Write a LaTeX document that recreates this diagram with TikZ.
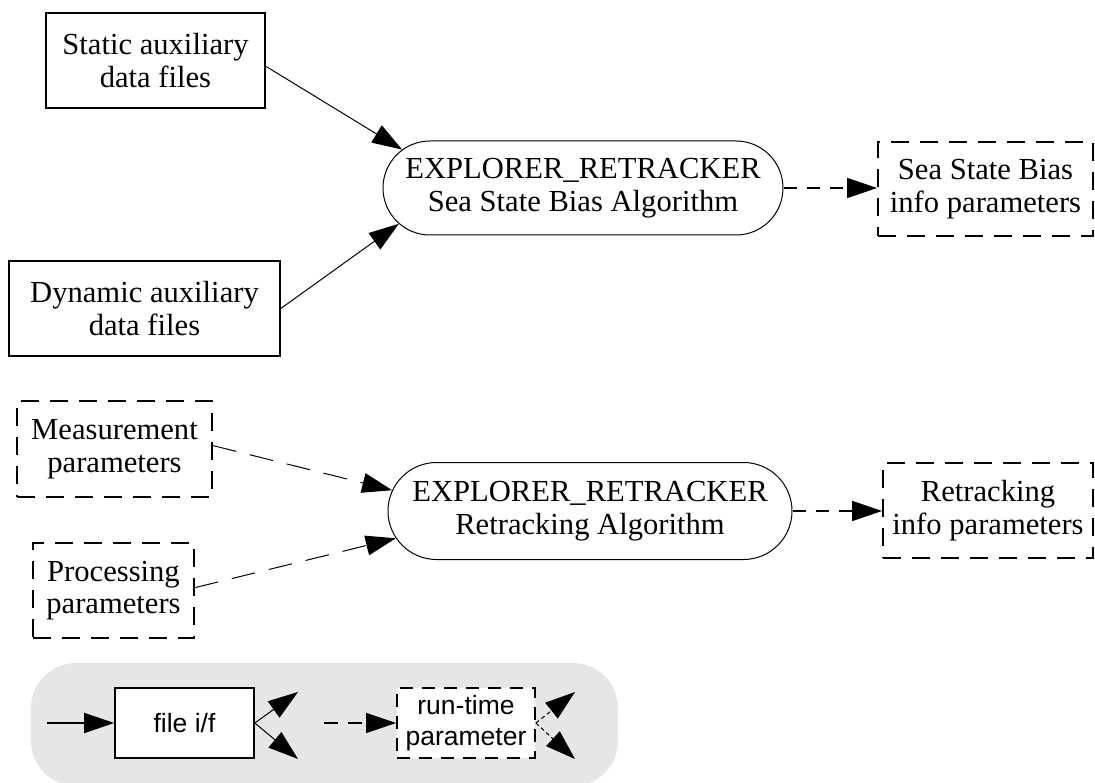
\documentclass[tikz,border=0pt]{standalone}
\usepackage{fontspec}
\setmainfont{Liberation Serif}
\setsansfont{Liberation Sans}
\usetikzlibrary{shapes.misc,arrows.meta}
\definecolor{legendgray}{HTML}{E6E6E6}
\begin{document}
\begin{tikzpicture}[x=1pt,y=-1pt,
  every node/.style={font=\fontsize{30.6}{32.5}\selectfont, align=center, inner sep=0pt},
  filebox/.style={draw, line width=1.6pt},
  parbox/.style={draw, line width=1.8pt, dash pattern=on 18pt off 11pt},
  algo/.style={draw, line width=1pt, rounded rectangle},
  legtext/.style={font=\sffamily\fontsize{26.5}{31}\selectfont, fill=white},
  flow/.style={line width=1pt, -{Triangle[length=30pt,width=20pt]}},
  pflow/.style={flow, line width=1.6pt, dash pattern=on 13pt off 10pt},
  mflow/.style={flow, dash pattern=on 24pt off 14pt}]
\useasboundingbox (0,0) rectangle (1095,783);

% top section
\node[filebox, minimum width=219pt, minimum height=95pt] (static) at (155.5,60.5) {Static auxiliary\\data files};
\node[filebox, minimum width=271pt, minimum height=95pt] (dynamic) at (144.5,308.5) {Dynamic auxiliary\\data files};
\node[algo, minimum width=400pt, minimum height=94pt] (ssb) at (583,188) {EXPLORER\_RETRACKER\\Sea State Bias Algorithm};
\node[parbox, minimum width=215pt, minimum height=94pt] (ssbinfo) at (985.5,189) {Sea State Bias\\info parameters};

\draw[flow] (static.-3) -- (ssb.168);
\draw[flow] (dynamic.east) -- (ssb.191.5);
\draw[pflow] (ssb.east) -- (ssb.east -| ssbinfo.west);

% middle section
\node[parbox, minimum width=195pt, minimum height=96pt] (meas) at (114.5,449) {Measurement\\parameters};
\node[parbox, minimum width=161pt, minimum height=95pt] (proc) at (113.5,590.5) {Processing\\parameters};
\node[algo, minimum width=404pt, minimum height=97pt] (retr) at (590,511) {EXPLORER\_RETRACKER\\Retracking Algorithm};
\node[parbox, minimum width=210pt, minimum height=95pt] (retrinfo) at (988,510.5) {Retracking\\info parameters};

\draw[mflow] (meas.2) -- (retr.174.5);
\draw[mflow] (proc.2.5) -- (retr.188.5);
\draw[pflow] (retr.east) -- (retr.east -| retrinfo.west);

% legend
\fill[legendgray, rounded corners=45pt] (31,663) rectangle (618,786);
\node[filebox, legtext, minimum width=139pt, minimum height=70pt] (lfile) at (184.5,723) {file i/f};
\node[parbox, legtext, minimum width=138pt, minimum height=70pt, dash pattern=on 13pt off 9pt] (lrun) at (466,723) {run-time\\parameter};
\coordinate (lin) at (47,723);
\coordinate (lfa) at (298,692);
\coordinate (lfb) at (298,759);
\coordinate (lpin) at (324,723);
\coordinate (lra) at (575,692);
\coordinate (lrb) at (575,759);
\draw[flow, line width=1.6pt] (lin) -- (lfile.west);
\draw[flow] (lfile.east) -- (lfa);
\draw[flow] (lfile.east) -- (lfb);
\draw[flow, line width=1.6pt, dash pattern=on 14pt off 10pt] (lpin) -- (lrun.west);
\draw[flow, dash pattern=on 4pt off 3pt] (lrun.east) -- (lra);
\draw[flow, dash pattern=on 4pt off 3pt] (lrun.east) -- (lrb);
\end{tikzpicture}
\end{document}
